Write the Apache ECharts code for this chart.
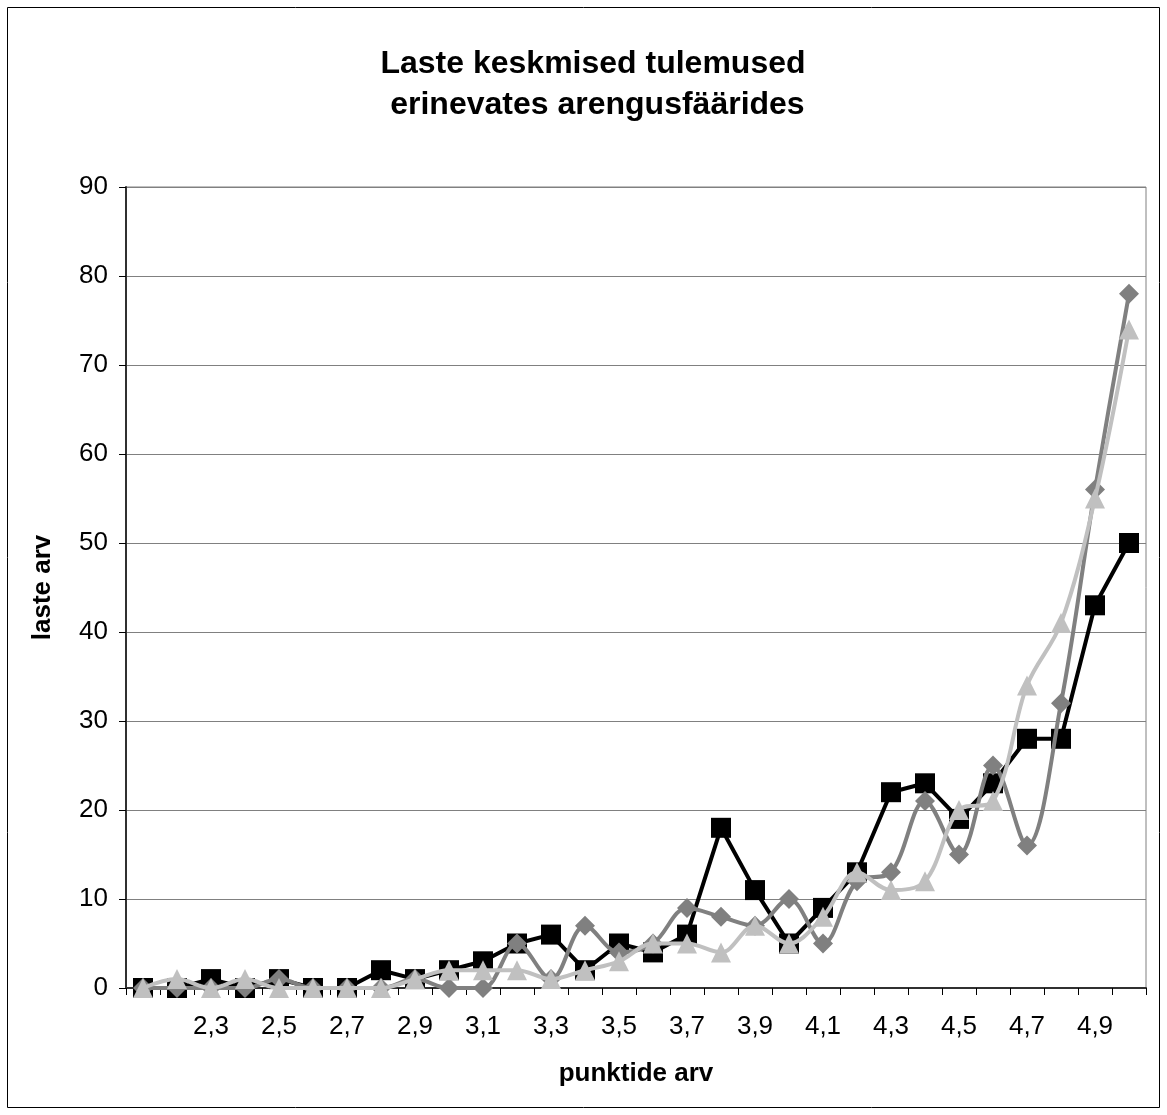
<!DOCTYPE html>
<html>
<head>
<meta charset="utf-8">
<script src="https://cdn.jsdelivr.net/npm/echarts@6/dist/echarts.min.js"></script>
<style>
html,body{margin:0;padding:0;background:#fff;}
#c{width:1167px;height:1115px;}
</style>
</head>
<body>
<div id="c"></div>
<script>
const categories = ["2,1","2,2","2,3","2,4","2,5","2,6","2,7","2,8","2,9","3,0","3,1","3,2","3,3","3,4","3,5","3,6","3,7","3,8","3,9","4,0","4,1","4,2","4,3","4,4","4,5","4,6","4,7","4,8","4,9","5,0"];
const seriesSquares = [0,0,1,0,1,0,0,2,1,2,3,5,6,2,5,4,6,18,11,5,9,13,22,23,19,23,28,28,43,50];
const seriesDiamonds = [0,0,0,0,1,0,0,0,1,0,0,5,1,7,4,5,9,8,7,10,5,12,13,21,15,25,16,32,56,78];
const seriesTriangles = [0,1,0,1,0,0,0,0,1,2,2,2,1,2,3,5,5,4,7,5,8,13,11,12,20,21,34,41,55,74];
const titleLines = ["Laste keskmised tulemused", " erinevates arengusfäärides"];
const yTicks = {min:0, max:90, interval:10};

const chart = echarts.init(document.getElementById('c'), null, {renderer:'canvas'});
const font = 'Liberation Sans, Arial, sans-serif';
chart.setOption({
  backgroundColor:'#fff',
  animation:false,
  graphic:[{type:'rect', shape:{x:7.5,y:7.5,width:1152,height:1100}, style:{fill:'none', stroke:'#000', lineWidth:1}, z:-1}],
  title:{
    text: titleLines.join('\n'),
    left: 588, top: 39, textAlign:'center',
    textStyle:{fontFamily:font, fontSize:32, fontWeight:'bold', color:'#000', lineHeight:41}
  },
  grid:{left:126, right:21, top:187, bottom:127, show:true, borderColor:'#808080', borderWidth:1},
  xAxis:{
    type:'category', data:categories, boundaryGap:true,
    name:'punktide arv', nameLocation:'middle', nameGap:73,
    nameTextStyle:{fontFamily:font, fontSize:26, fontWeight:'bold', color:'#000'},
    axisLine:{lineStyle:{color:'#303030', width:2}},
    axisTick:{show:true, interval:0, length:7, lineStyle:{color:'#000', width:1}},
    axisLabel:{interval:(i)=> i>0 && i%2===0, margin:26, fontFamily:font, fontSize:26, color:'#000'},
    splitLine:{show:false}
  },
  yAxis:{
    type:'value', min:yTicks.min, max:yTicks.max, interval:yTicks.interval,
    name:'laste arv', nameLocation:'middle', nameGap:70, nameRotate:90,
    nameTextStyle:{fontFamily:font, fontSize:26, fontWeight:'bold', color:'#000'},
    axisLine:{show:true, lineStyle:{color:'#303030', width:2}},
    axisTick:{show:true, length:7, lineStyle:{color:'#000'}},
    axisLabel:{margin:18, fontFamily:font, fontSize:26, color:'#000'},
    splitLine:{show:true, lineStyle:{color:'#808080', width:1}}
  },
  series:[
    {name:'1', type:'line', data:seriesSquares, symbol:'rect', symbolSize:20,
     itemStyle:{color:'#000'}, lineStyle:{color:'#000', width:4}, z:2},
    {name:'2', type:'line', data:seriesDiamonds, symbol:'diamond', symbolSize:[20,20], smooth:0.35,
     itemStyle:{color:'#808080'}, lineStyle:{color:'#808080', width:4}, z:3},
    {name:'3', type:'line', data:seriesTriangles, symbol:'triangle', symbolSize:20, smooth:0.35,
     itemStyle:{color:'#c0c0c0'}, lineStyle:{color:'#c0c0c0', width:4}, z:4}
  ]
});
</script>
</body>
</html>
